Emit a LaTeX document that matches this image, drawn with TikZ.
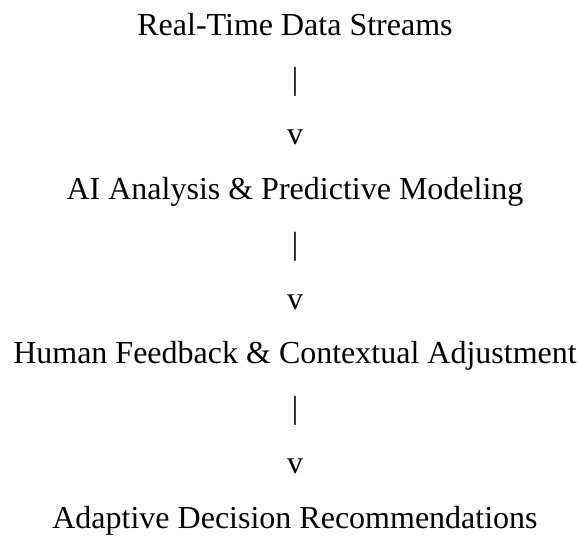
\documentclass[tikz,border=0pt]{standalone}
\usepackage{fontspec}
\setmainfont{Liberation Serif}
\begin{document}
\begin{tikzpicture}[x=1pt,y=-1pt,every node/.style={font=\fontsize{32}{38}\selectfont,inner sep=0pt,anchor=base}]
    \useasboundingbox (0,0) rectangle (578,536);
    \node (data) at (295,35) {Real-Time Data Streams};
    \node (bara) at (295,89.8) {|};
    \node (va) at (295,144.6) {v};
    \node (ai) at (295,199.4) {AI Analysis \& Predictive Modeling};
    \node (barb) at (295,254.2) {|};
    \node (vb) at (295,309) {v};
    \node (human) at (295,363.8) {Human Feedback \& Contextual Adjustment};
    \node (barc) at (295,418.6) {|};
    \node (vc) at (295,473.4) {v};
    \node (adapt) at (295,528.2) {Adaptive Decision Recommendations};
\end{tikzpicture}
\end{document}
